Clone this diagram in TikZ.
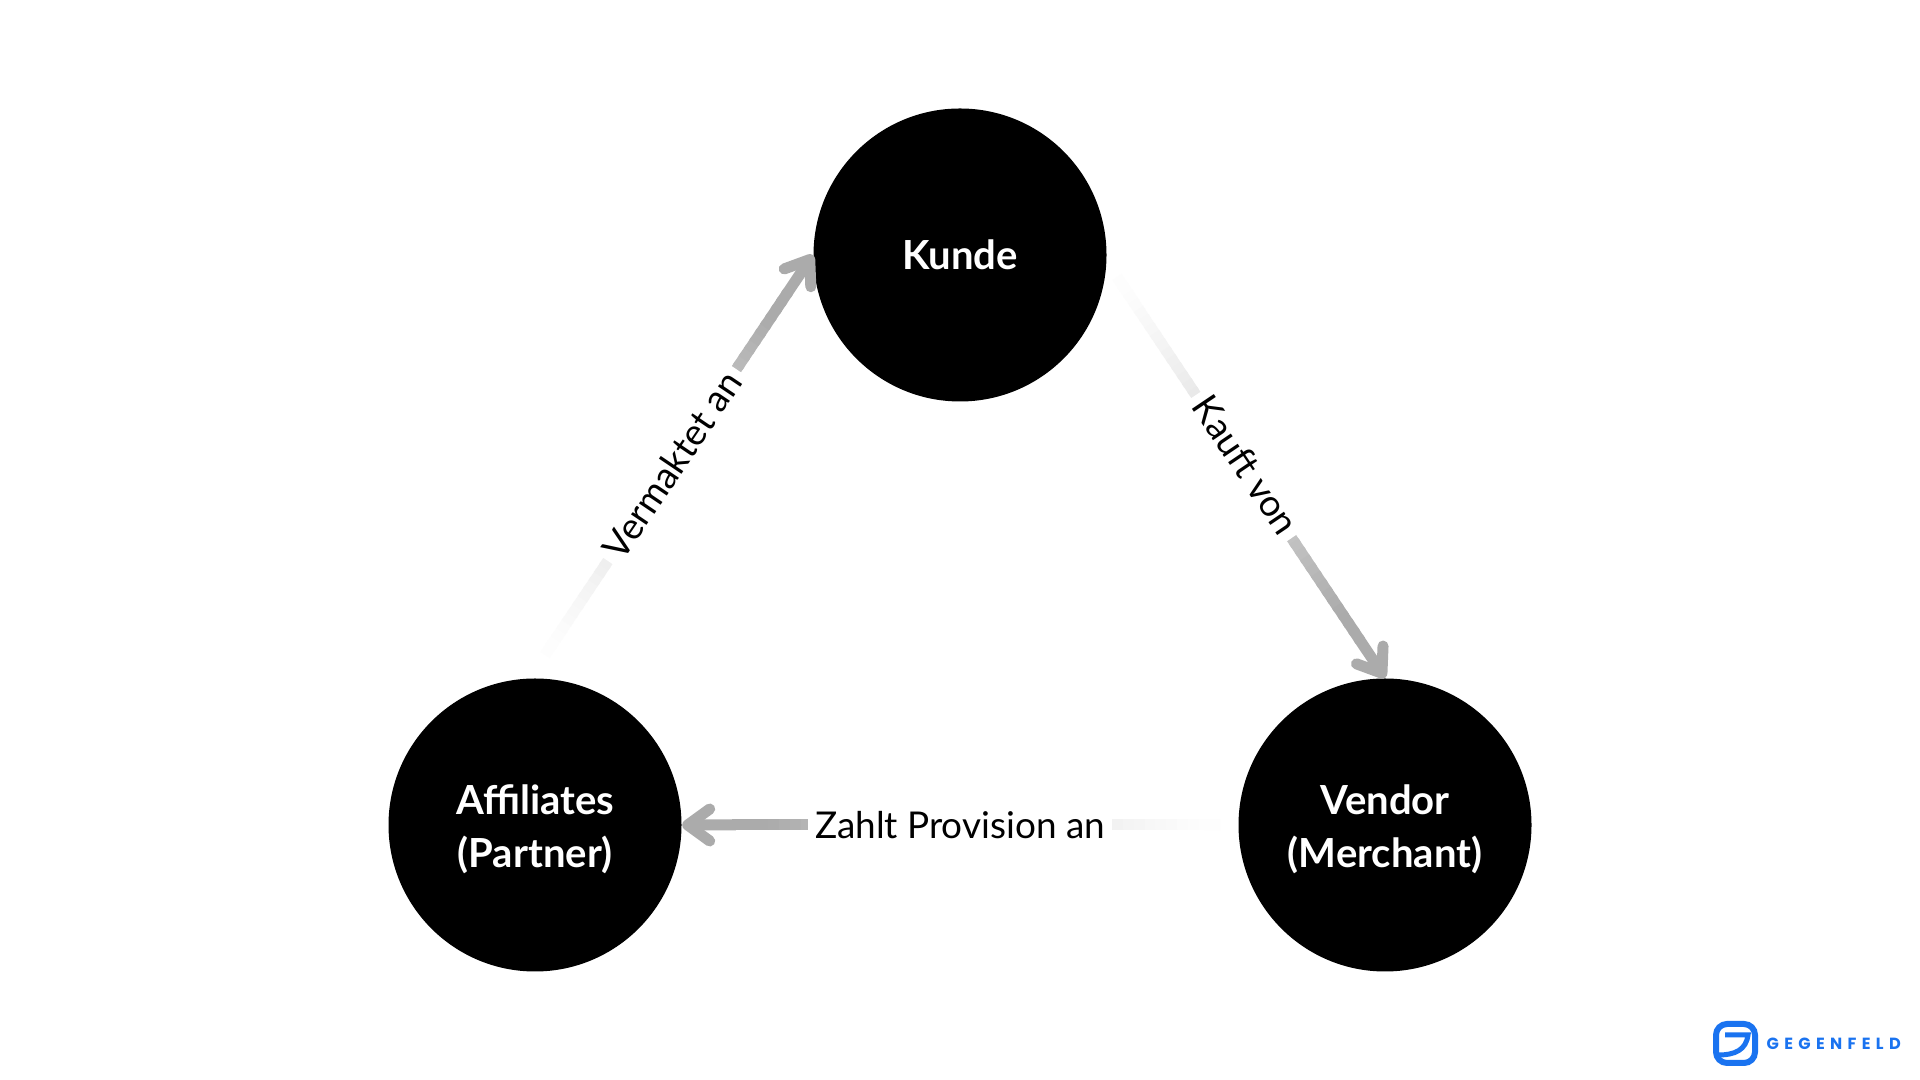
\documentclass[tikz,border=0pt]{standalone}
\usepackage{fontspec}
\usepackage{tikz}
\usetikzlibrary{arrows.meta,calc}
\setmainfont{Lato}
\newfontfamily\logofont[LetterSpace=33]{Poppins}
\definecolor{arrowgray}{HTML}{ABABAB}
\definecolor{logoblue}{HTML}{1A73F0}
\tikzset{
  party/.style={circle,fill=black,text=white,minimum size=2.93cm,inner sep=0pt,align=center,
    font=\fontsize{11.4}{15}\selectfont\bfseries},
  flowlabel/.style={fill=white,inner xsep=2pt,inner ysep=0pt,font=\fontsize{10.5}{13}\selectfont},
}
\newcommand{\nudge}{\rule{0pt}{11pt}}
\newcommand{\fadeline}[2]{
  \foreach \i in {0,...,44}{
    \pgfmathsetmacro{\ta}{\i/50}
    \pgfmathsetmacro{\tb}{(\i+1.4)/50}
    \pgfmathsetmacro{\shadeval}{min(100,2+125*pow(\ta+0.001,1.3))}
    \draw[line width=0.11cm,arrowgray!\shadeval!white] ($(#1)!\ta!(#2)$)--($(#1)!\tb!(#2)$);
  }
  \draw[line width=0.11cm,arrowgray,line cap=butt,
    -{Straight Barb[round,length=0.22cm,width=0.32cm]}] ($(#1)!0.9!(#2)$)--(#2);
}
\begin{document}
\begin{tikzpicture}
  \useasboundingbox (0,0) rectangle (19.2,10.8);
  \fill[white] (0,0) rectangle (19.2,10.8);
  \node[party] (kunde) at (9.6,8.25) {Kunde};
  \node[party] (affiliates) at (5.35,2.55) {\nudge Affiliates\\(Partner)};
  \node[party] (vendor) at (13.85,2.55) {\nudge Vendor\\(Merchant)};
  \coordinate (vermaktetstart) at (5.45,4.25);
  \coordinate (kaufstart) at (11.17,8.03);
  \coordinate (zahltstart) at (12.2,2.55);
  \fadeline{vermaktetstart}{kunde.west}
  \fadeline{kaufstart}{vendor.north}
  \fadeline{zahltstart}{affiliates.east}
  \node[flowlabel,rotate=56] (vermaktet) at (6.72,6.15) {Vermaktet an};
  \node[flowlabel,rotate=-56] (kauf) at (12.46,6.15) {Kauf{}t von};
  \node[flowlabel] (zahlt) at (9.6,2.55) {Zahlt Provision an};
  % logo
  \draw[logoblue,line width=0.06cm,rounded corners=0.11cm] (17.16,0.17) rectangle (17.55,0.56);
  \draw[logoblue,line width=0.05cm] (17.25,0.45)--(17.48,0.45) .. controls (17.46,0.3) and (17.35,0.25) .. (17.18,0.25);
  \node[anchor=west,inner sep=0pt,text=logoblue,font=\fontsize{4.6}{5}\selectfont\logofont\bfseries] (logotext) at (17.66,0.36) {GEGENFELD};
\end{tikzpicture}
\end{document}
